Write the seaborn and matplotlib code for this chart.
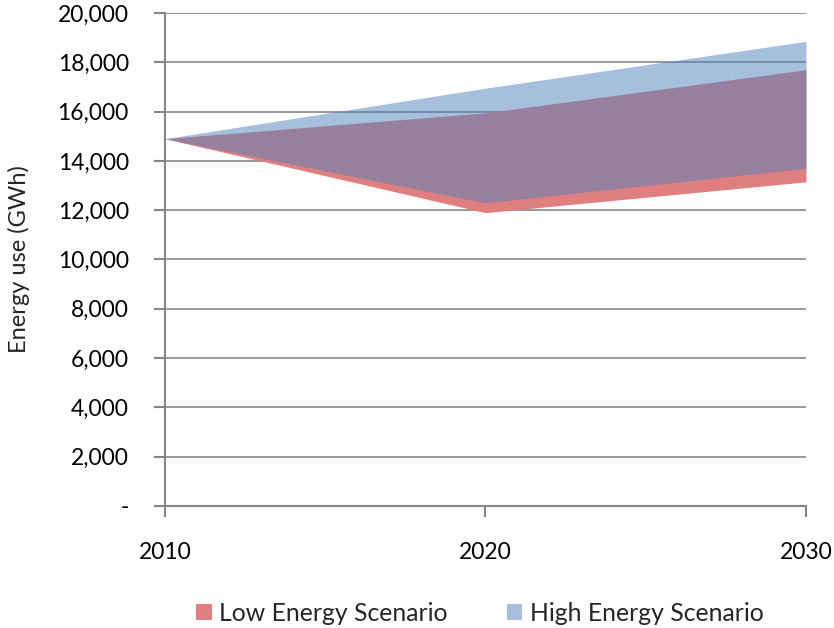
import matplotlib
matplotlib.use('Agg')
import matplotlib.pyplot as plt
import matplotlib.ticker as mticker
from matplotlib.patches import Patch
import seaborn as sns

years = [2010, 2020, 2030]
low_min = [14900, 11900, 13150]
low_max = [14900, 15950, 17700]
high_min = [14900, 12300, 13700]
high_max = [14900, 16950, 18850]
yticks = list(range(0, 20001, 2000))

sns.set_style('white')
plt.rcParams['font.family'] = ['Lato', 'DejaVu Sans']

grey = '#868686'
red = '#E07F7F'
blue = '#4F81BD'

fig = plt.figure(figsize=(8.34, 6.28), dpi=100)
ax = fig.add_axes([0.1978, 0.1943, 0.7686, 0.785])

ax.fill_between(years, low_min, low_max, color=red, lw=0, zorder=2)
ax.fill_between(years, high_min, high_max, color=blue, alpha=0.5, lw=0, zorder=3)

ax.set_xlim(2010, 2030)
ax.set_ylim(0, 20000)
ax.set_xticks(years)
ax.set_yticks(yticks)
ax.yaxis.set_major_formatter(mticker.FuncFormatter(lambda v, p: '-' if v == 0 else f'{v:,.0f}'))
for y in yticks[1:]:
    ax.axhline(y, color=grey, lw=1.2, zorder=1)

for s in ['top', 'right']:
    ax.spines[s].set_visible(False)
for s in ['left', 'bottom']:
    ax.spines[s].set_color(grey)
    ax.spines[s].set_linewidth(1.5)
ax.tick_params(axis='both', direction='out', length=8, width=1.5, color=grey,
               labelsize=16.5, labelcolor='black', bottom=True, left=True)
ax.tick_params(axis='y', pad=18)
ax.tick_params(axis='x', pad=18)
ax.set_ylabel('Energy use (GWh)', fontsize=17, labelpad=20)

handles = [Patch(facecolor=red, lw=0), Patch(facecolor=blue, alpha=0.5, lw=0)]
fig.legend(handles, ['Low Energy Scenario', 'High Energy Scenario'], loc='lower center',
           bbox_to_anchor=(0.5755, -0.03), ncol=2, frameon=False, fontsize=17.8,
           handlelength=0.62, handleheight=0.62, handletextpad=0.3, columnspacing=2.4)

fig.savefig('out.png', dpi=100)
